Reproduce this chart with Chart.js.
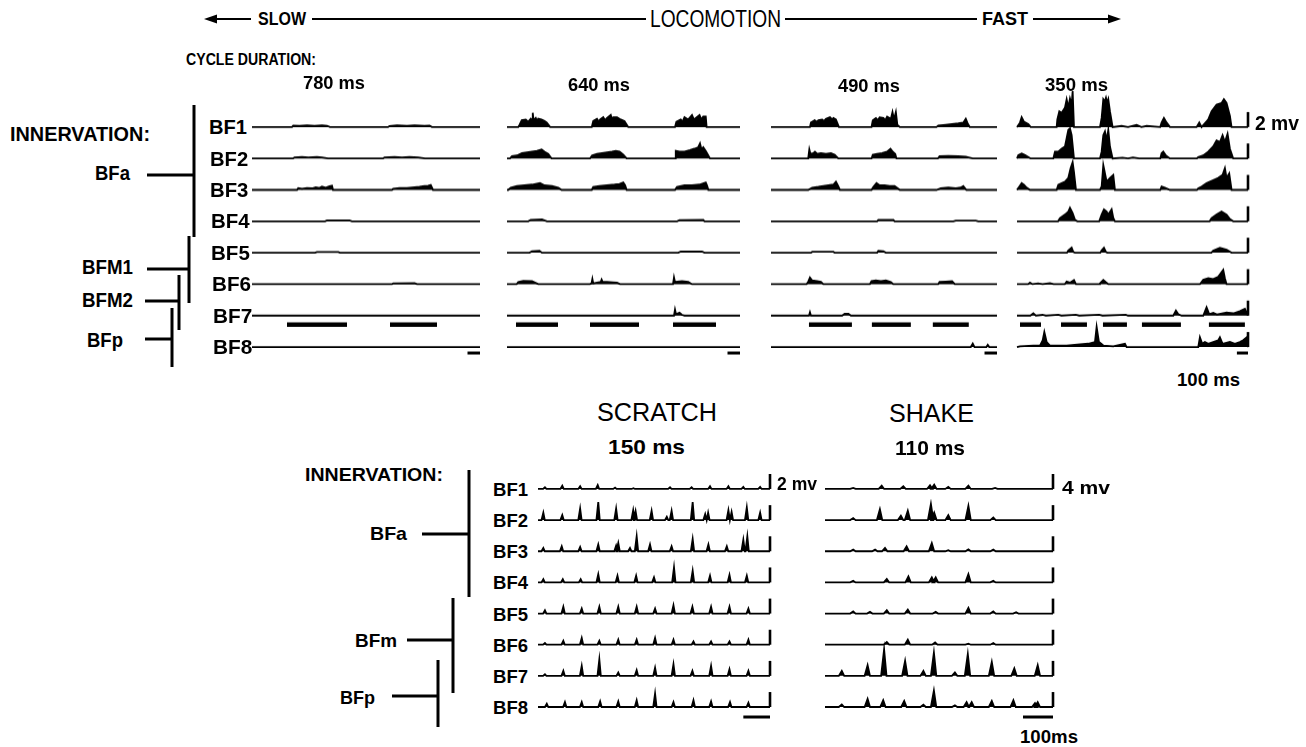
<!DOCTYPE html>
<html><head><meta charset="utf-8">
<script src="https://cdn.jsdelivr.net/npm/chart.js@4.4.0/dist/chart.umd.min.js"></script>
<style>
html,body{margin:0;padding:0;background:#fff;}
#stage{position:relative;width:1306px;height:747px;overflow:hidden;background:#fff;font-family:"Liberation Sans",Arial,Helvetica,sans-serif;color:#000;}
#stage canvas{position:absolute;}
.t{position:absolute;white-space:nowrap;line-height:1;transform-origin:0 50%;}
#ann{position:absolute;left:0;top:0;}
</style></head><body><div id="stage"><svg id="ann" width="1306" height="747"></svg></div>
<script>
// ===================== DATA =====================
// Labels
const rowLabels = ["BF1","BF2","BF3","BF4","BF5","BF6","BF7","BF8"];
const cycleDurationsMs = [780, 640, 490, 350];
const scratchCycleMs = 150;
const shakeCycleMs = 110;
const locoCalibMV = 2, scratchCalibMV = 2, shakeCalibMV = 4, timeBarMs = 100;

// Sweep durations (ms) of each record
const sweep780 = 1824, sweep640 = 1864, sweep490 = 1810, sweep350 = 2080;
const sweepScratch = 870, sweepShake = 760;

// Rectified EMG envelopes, locomotion: flat lists [time ms, amplitude mV, ...]
const loco780 = [
  [320,0, 330,0.2, 380,0.15, 440,0.22, 500,0.15, 560,0.22, 600,0.18, 624,0, 1088,0, 1100,0.15, 1160,0.22, 1240,0.18, 1300,0.22, 1380,0.15, 1420,0.2, 1440,0],
  [328,0, 340,0.15, 400,0.2, 450,0.15, 520,0.2, 560,0.15, 608,0, 1048,0, 1060,0.15, 1140,0.2, 1200,0.15, 1260,0.22, 1330,0.15, 1384,0],
  [360,0, 370,0.25, 400,0.15, 440,0.25, 480,0.2, 510,0.35, 540,0.25, 560,0.45, 590,0.3, 620,0.5, 640,0.55, 648,0, 1120,0, 1130,0.15, 1180,0.25, 1240,0.25, 1300,0.35, 1340,0.4, 1380,0.5, 1410,0.55, 1430,0.65, 1448,0],
  [584,0, 600,0.12, 780,0.12, 800,0],
  [504,0, 520,0.1, 690,0.1, 704,0],
  [1120,0, 1130,0.12, 1300,0.15, 1320,0],
  [],
  []
];
const loco640 = [
  [90,0, 100,0.3, 118,0.9, 150,1.0, 170,0.7, 190,1.1, 200,0.9, 206,1.9, 212,0.9, 230,1.2, 240,0.8, 250,1.1, 275,1.0, 300,0.8, 318,0.6, 345,0, 678,0, 690,0.8, 720,1.1, 735,0.7, 745,1.0, 770,1.3, 785,0.9, 800,1.2, 830,1.6, 840,1.0, 850,1.3, 880,1.3, 910,1.0, 940,0.8, 970,0, 1344,0, 1355,0.7, 1390,1.0, 1405,0.7, 1420,1.3, 1450,1.0, 1480,1.6, 1495,1.0, 1510,1.2, 1540,1.6, 1555,1.0, 1570,1.4, 1590,1.4, 1597,0],
  [24,0, 40,0.3, 80,0.4, 120,0.7, 160,0.8, 200,0.9, 240,1.0, 277,1.2, 300,0.9, 330,0.6, 357,0, 664,0, 680,0.4, 720,0.6, 760,0.7, 800,0.8, 840,0.9, 870,1.0, 900,0.9, 930,0.5, 957,0, 1344,0, 1350,1.0, 1380,0.9, 1420,0.9, 1464,1.1, 1500,1.3, 1530,1.5, 1544,2.0, 1556,1.2, 1570,1.5, 1590,1.0, 1624,0],
  [10,0, 30,0.3, 80,0.5, 140,0.6, 200,0.7, 264,0.9, 300,0.6, 360,0.5, 410,0.3, 437,0, 678,0, 690,0.4, 740,0.5, 800,0.6, 860,0.7, 900,0.8, 930,1.0, 945,0.6, 957,0, 1344,0, 1360,0.4, 1420,0.6, 1480,0.6, 1540,0.7, 1590,1.0, 1600,0.6, 1611,0],
  [170,0, 190,0.2, 280,0.25, 320,0, 1360,0, 1380,0.15, 1570,0.2, 1580,0],
  [180,0, 200,0.2, 260,0.25, 280,0, 1370,0, 1390,0.15, 1560,0.15, 1580,0],
  [77,0, 90,0.3, 130,0.45, 200,0.4, 250,0, 664,0, 676,0.1, 683,0.7, 690,0.1, 720,0.2, 750,0.3, 757,0.6, 765,0.3, 800,0.3, 850,0.25, 880,0.2, 904,0, 1328,0, 1336,0.9, 1344,0.3, 1400,0.4, 1450,0.3, 1480,0],
  [1336,0, 1344,0.8, 1352,0.2, 1380,0.4, 1400,0.1, 1420,0],
  []
];
const loco490 = [
  [312,0, 320,0.6, 350,0.9, 365,0.7, 380,0.9, 410,1.0, 425,0.8, 440,1.1, 472,1.3, 490,1.0, 500,1.2, 520,1.0, 544,0, 805,0, 815,0.9, 840,1.2, 855,0.9, 870,1.3, 900,1.2, 915,0.9, 930,1.4, 960,1.1, 973,2.0, 985,1.0, 1000,2.0, 1012,0.3, 1032,0, 1325,0, 1340,0.2, 1400,0.3, 1450,0.4, 1500,0.5, 1540,0.6, 1560,1.1, 1575,0.5, 1592,0],
  [298,0, 307,1.2, 316,0.6, 340,0.7, 352,0.9, 370,0.6, 400,0.7, 440,0.6, 480,0.7, 510,0.5, 539,0, 805,0, 815,0.5, 850,0.6, 890,0.7, 930,0.9, 957,1.3, 975,0.9, 995,0.6, 1005,0, 1336,0, 1350,0.3, 1420,0.35, 1500,0.3, 1560,0.25, 1616,0],
  [298,0, 330,0.3, 380,0.4, 420,0.5, 460,0.6, 500,0.7, 520,1.1, 535,0.6, 552,0, 805,0, 820,0.4, 845,0.9, 870,0.6, 910,0.6, 950,0.5, 990,0.5, 1032,0, 1325,0, 1360,0.2, 1420,0.3, 1480,0.2, 1520,0.3, 1540,0.5, 1555,0.2, 1565,0],
  [850,0, 860,0.2, 980,0.2, 990,0, 1460,0, 1480,0.1, 1640,0.1, 1660,0],
  [320,0, 330,0.12, 500,0.12, 510,0, 850,0, 860,0.25, 900,0.2, 920,0],
  [285,0, 300,0.4, 312,0.9, 330,0.5, 370,0.4, 400,0.3, 419,0, 792,0, 805,0.4, 840,0.5, 880,0.4, 920,0.5, 960,0.3, 979,0, 1339,0, 1350,0.3, 1400,0.35, 1450,0.4, 1472,0],
  [304,0, 312,0.45, 320,0, 570,0, 590,0.25, 620,0.25, 640,0],
  [1600,0, 1616,0.45, 1630,0, 1725,0, 1736,0.3, 1748,0]
];
const loco350 = [
  [3,0, 27,0.6, 42,1.3, 63,0.7, 102,0.4, 123,0, 357,0, 363,1.0, 381,2.1, 402,1.9, 432,2.6, 447,3.7, 462,2.6, 477,3.8, 492,3.0, 501,4.8, 513,0, 747,0, 762,1.2, 770,2.5, 777,3.7, 790,3.4, 801,3.9, 812,3.2, 822,3.7, 837,2.1, 861,0, 942,0.15, 1000,0, 1077,0.3, 1120,0, 1167,0.15, 1290,0, 1302,0.6, 1323,1.2, 1347,0.6, 1377,0, 1617,0, 1641,0.6, 1662,0, 1722,1.0, 1752,2.1, 1797,3.0, 1842,3.2, 1863,3.7, 1887,3.2, 1917,1.5, 1932,0],
  [12,0.44, 42,0.67, 72,0.44, 102,0.2, 123,0, 327,0, 342,0.9, 372,0.9, 402,1.3, 432,1.6, 447,2.7, 462,3.8, 477,4.0, 492,3.1, 513,0, 747,0, 762,0.9, 777,3.1, 792,3.6, 807,2.4, 822,3.8, 837,1.6, 861,0, 950,0.1, 1000,0, 1044,0.15, 1100,0, 1290,0, 1302,0.7, 1317,0.9, 1341,0.4, 1377,0, 1620,0, 1632,0.2, 1677,0.4, 1722,0.9, 1767,1.6, 1797,2.4, 1827,2.2, 1851,3.1, 1872,2.2, 1896,3.3, 1917,1.3, 1947,0],
  [21,0.44, 42,0.9, 63,0.67, 87,0.3, 117,0, 357,0, 372,0.67, 402,0.9, 432,1.1, 462,1.6, 483,2.9, 501,3.7, 513,2.4, 531,0, 747,0, 762,0.44, 777,3.3, 792,2.2, 807,1.1, 837,1.6, 867,2.0, 882,0, 1290,0, 1302,0.44, 1332,0.3, 1377,0, 1620,0, 1632,0.2, 1662,0.44, 1707,0.9, 1767,1.3, 1812,1.6, 1851,2.0, 1872,2.9, 1887,1.6, 1911,2.2, 1932,0],
  [370,0, 387,0.44, 432,0.9, 462,1.3, 477,1.8, 501,1.1, 522,0.2, 543,0, 740,0, 762,0.9, 783,1.6, 807,1.3, 822,0.9, 852,1.6, 867,0.44, 882,0, 1735,0, 1752,0.44, 1797,0.9, 1842,1.3, 1887,0.9, 1917,0.3, 1947,0],
  [450,0, 462,0.3, 492,0.67, 507,0.1, 522,0, 750,0, 762,0.3, 783,0.67, 801,0.1, 813,0, 1750,0, 1767,0.3, 1827,0.67, 1887,0.4, 1932,0],
  [100,0, 117,0.2, 140,0, 190,0.1, 230,0, 297,0.12, 330,0, 430,0, 447,0.35, 477,0.2, 513,0.55, 531,0, 740,0, 747,0.1, 777,0.55, 801,0.25, 822,0, 1647,0, 1677,0.6, 1722,0.8, 1767,0.67, 1812,1.0, 1857,1.9, 1872,0.8, 1887,0],
  [120,0, 147,0.3, 170,0, 230,0.1, 260,0, 372,0.12, 400,0, 530,0.12, 560,0, 740,0.12, 770,0, 980,0.12, 1000,0, 1407,0, 1431,0.67, 1452,0.2, 1482,0, 1677,0, 1707,1.1, 1731,0.2, 1767,0.36, 1800,0.15, 1887,0.4, 1947,0.3, 2007,0.6, 2052,0.9],
  [27,0.1, 147,0.2, 207,0.2, 231,0.9, 246,2.0, 267,0.67, 297,0.2, 447,0.2, 567,0.36, 642,0.44, 702,0.67, 717,2.7, 738,0.67, 777,0.2, 867,0.1, 972,0.44, 987,0, 1632,0, 1647,1.3, 1668,0.44, 1692,0.67, 1722,0.44, 1767,0.67, 1812,0.9, 1827,1.3, 1851,0.44, 1917,0.67, 1962,0.44, 2007,0.67, 2037,0.9, 2070,1.3]
];

// Stance-phase bars drawn under BF7 [start ms, end ms]
const phase780 = [[280,760],[1104,1480]];
const phase640 = [[72,408],[664,1056],[1328,1672]];
const phase490 = [[304,648],[808,1120],[1296,1584]];
const phase350 = [[27,216],[396,630],[774,990],[1125,1476],[1728,2052]];

// Scratch and shake: burst peaks [time ms, amplitude mV, ...]
const scratchPeaks = [
  [26,0.22, 91,0.44, 158,0.36, 224,0.53, 289,0.18, 358,0.1, 495,0.22, 576,0.22, 645,0.36, 714,0.36, 770,0.27, 833,0.27],
  [20,1.0, 91,0.67, 158,1.55, 226,2.4, 293,1.55, 357,1.33, 366,1.2, 426,1.25, 483,0.45, 501,1.25, 580,2.4, 627,0.8, 638,1.0, 714,1.33, 726,1.1, 783,1.7, 833,1.0],
  [20,0.44, 89,0.67, 158,0.58, 226,0.9, 293,0.75, 301,1.1, 345,0.44, 370,2.0, 420,0.9, 501,0.67, 580,1.65, 639,0.9, 708,0.67, 770,1.55, 785,2.0],
  [20,0.44, 93,0.44, 160,0.44, 226,1.1, 298,0.9, 368,0.9, 435,0.67, 510,2.0, 580,1.55, 645,0.9, 718,1.0, 783,0.9],
  [26,0.44, 95,0.9, 164,0.67, 230,0.9, 301,0.9, 370,0.9, 439,0.67, 508,1.1, 579,0.9, 649,0.9, 718,0.9, 789,0.67],
  [26,0.22, 95,0.53, 164,0.9, 230,0.53, 301,0.67, 370,0.67, 439,0.9, 508,0.67, 583,0.44, 649,0.44, 718,0.44, 789,0.67],
  [26,0.22, 95,0.67, 164,1.33, 230,2.2, 301,0.44, 370,0.75, 439,1.1, 508,1.55, 579,0.67, 649,1.33, 718,0.9, 789,0.67],
  [33,0.44, 101,0.67, 164,0.67, 233,0.75, 301,0.75, 370,0.9, 439,1.8, 508,0.67, 583,0.9, 649,0.75, 720,0.67, 789,0.58]
];
const shakePeaks = [
  [94,0.27, 189,0.9, 261,0.7, 350,1.0, 364,1.15, 411,0.53, 478,0.9, 567,0.27],
  [94,0.53, 183,2.9, 253,1.15, 276,2.5, 353,4.3, 364,2.0, 411,1.33, 478,3.8, 561,0.7],
  [94,0.44, 167,0.44, 200,0.9, 272,1.33, 356,2.2, 411,0.27, 478,0.53, 561,0.44],
  [94,0.44, 206,0.9, 278,1.6, 356,1.33, 369,1.33, 478,2.2, 561,0.44],
  [94,0.6, 150,0.44, 206,0.9, 276,1.07, 369,0.44, 478,1.5, 561,0.6, 637,0.36],
  [206,0.7, 276,1.33, 367,0.6, 478,0.27, 561,0.44],
  [56,1.33, 142,2.85, 197,7.1, 267,4.0, 328,1.33, 363,6.2, 433,0.9, 476,5.8, 556,3.7, 631,2.0, 709,2.85],
  [56,0.7, 142,2.2, 194,1.8, 264,1.6, 328,0.6, 363,4.4, 433,0.44, 472,1.33, 489,1.33, 556,1.6, 628,1.8, 700,1.07, 709,1.33]
];

// ===================== LAYOUT / DRAWING =====================
const stage = document.getElementById('stage');
const ink = '#000';

function pairs(flat){ const o=[]; for(let i=0;i<flat.length;i+=2) o.push([flat[i],flat[i+1]]); return o; }

function buildPanel(cfg){
  const padL=4, padR=8;
  const n = cfg.traces.length;
  const H = cfg.head + cfg.spacing*(n-1) + cfg.foot;
  const cv = document.createElement('canvas');
  cv.width = cfg.w+padL+padR; cv.height = H;
  cv.style.left=(cfg.x0-padL)+'px'; cv.style.top=(cfg.base0-cfg.head)+'px';
  cv.style.width=cv.width+'px'; cv.style.height=H+'px';
  stage.appendChild(cv);
  const k = cfg.pxPerMV;
  const yMax = cfg.head/k, yMin = -(cfg.spacing*(n-1)+cfg.foot)/k;
  const off = i => -i*cfg.spacing/k;
  const ds = [];
  cfg.traces.forEach((tr,i)=>{
    let pts;
    if(cfg.spikes){
      pts=[[0,0]];
      pairs(tr).forEach(([t,a])=>{ pts.push([t-cfg.hw,0],[t,a],[t+cfg.hw*0.8,0]); });
      pts.push([cfg.sweep,0]);
    } else {
      pts=[[0,0]].concat(pairs(tr)).concat([[cfg.sweep,0]]);
    }
    ds.push({data:pts.map(([x,y])=>({x,y:y+off(i)})), borderColor:ink, backgroundColor:ink,
      borderWidth:1.8, pointRadius:0, tension:0, fill:{value:off(i)}, clip:false});
    if(cfg.calib){
      ds.push({data:[{x:cfg.sweep,y:off(i)},{x:cfg.sweep,y:off(i)+cfg.calib}], borderColor:ink,
        borderWidth:2.6, pointRadius:0, fill:false, clip:false, borderCapStyle:'butt'});
    }
  });
  if(cfg.phase){
    const y = off(6) - 9/k;
    cfg.phase.forEach(([a,b])=>ds.push({data:[{x:a,y},{x:b,y}], borderColor:ink, borderWidth:4.5,
      pointRadius:0, fill:false, clip:false, borderCapStyle:'butt'}));
  }
  const yb = off(n-1) - cfg.barGap/k;
  ds.push({data:[{x:cfg.sweep-timeBarMs,y:yb},{x:cfg.sweep,y:yb}], borderColor:ink, borderWidth:3,
    pointRadius:0, fill:false, clip:false, borderCapStyle:'butt'});
  new Chart(cv,{type:'line',data:{datasets:ds},options:{
    responsive:false, animation:false, events:[], devicePixelRatio:1,
    layout:{padding:{left:padL,right:padR,top:0,bottom:0}},
    plugins:{legend:{display:false},tooltip:{enabled:false},title:{display:false}},
    scales:{x:{type:'linear',display:false,min:0,max:cfg.sweep},
            y:{type:'linear',display:false,min:yMin,max:yMax}}
  }});
}

const locoRows = {base0:127, spacing:31.4, head:42, foot:16, pxPerMV:7.5, barGap:6};
buildPanel(Object.assign({x0:252, w:228, sweep:sweep780, traces:loco780, phase:phase780}, locoRows));
buildPanel(Object.assign({x0:507, w:233, sweep:sweep640, traces:loco640, phase:phase640}, locoRows));
buildPanel(Object.assign({x0:771, w:226, sweep:sweep490, traces:loco490, phase:phase490}, locoRows));
buildPanel(Object.assign({x0:1017, w:231, sweep:sweep350, traces:loco350, phase:phase350, calib:locoCalibMV}, locoRows));
buildPanel({x0:538, w:232, sweep:sweepScratch, traces:scratchPeaks, spikes:true, hw:7, calib:scratchCalibMV,
  base0:489, spacing:31.2, head:24, foot:16, pxPerMV:7.5, barGap:10});
buildPanel({x0:825, w:228, sweep:sweepShake, traces:shakePeaks, spikes:true, hw:10, calib:shakeCalibMV,
  base0:489, spacing:31.2, head:34, foot:16, pxPerMV:3.75, barGap:10});

// ---- text ----
function addText(str, left, right, cy, size, weight){
  const d=document.createElement('div'); d.className='t'; d.textContent=str;
  d.style.fontSize=size+'px'; d.style.fontWeight=weight||'bold';
  stage.appendChild(d);
  const w=d.getBoundingClientRect().width;
  d.style.left=left+'px'; d.style.top=(cy-0.4885*size)+'px';
  d.style.transform='scaleX('+((right-left)/w).toFixed(3)+')';
}
addText('SLOW',258,306,19,18);
addText('LOCOMOTION',650,781,19,24,'normal');
addText('FAST',982,1028,19,18);
addText('CYCLE DURATION:',186,316,60,16);
const cycX=[[303,365],[568,630],[838,900],[1045,1108]], cycY=[83,85,86,85];
cycleDurationsMs.forEach((v,i)=>addText(v+' ms',cycX[i][0],cycX[i][1],cycY[i],18));
addText('INNERVATION:',10,150,134,20);
addText('BFa',95,130,173,20);
addText('BFM1',82,133,267,20);
addText('BFM2',82,133,300,20);
addText('BFp',87,123,340,20);
rowLabels.forEach((s,i)=>addText(s,209+i*0.6,247+i*0.8,127+i*31.4,20));
addText('2 mv',1255,1299,123,20);
addText('100 ms',1177,1240,380,18);
addText('SCRATCH',597,717,412,25,'normal');
addText(scratchCycleMs+' ms',608,685,446,21);
addText('SHAKE',889,974,413,25,'normal');
addText(shakeCycleMs+' ms',895,965,447,21);
addText('INNERVATION:',305,443,474,19);
addText('BFa',370,407,533,19);
addText('BFm',355,397,640,19);
addText('BFp',340,375,697,19);
rowLabels.forEach((s,i)=>addText(s,493,528,489+i*31.2,19));
addText('2 mv',777,817,483,19);
addText('4 mv',1062,1110,487,19);
addText('100ms',1020,1078,737,18);

// ---- annotation lines ----
const svg=document.getElementById('ann');
function ln(x1,y1,x2,y2,w){const l=document.createElementNS('http://www.w3.org/2000/svg','line');
  l.setAttribute('x1',x1);l.setAttribute('y1',y1);l.setAttribute('x2',x2);l.setAttribute('y2',y2);
  l.setAttribute('stroke',ink);l.setAttribute('stroke-width',w);svg.appendChild(l);}
function tri(p){const g=document.createElementNS('http://www.w3.org/2000/svg','polygon');
  g.setAttribute('points',p);g.setAttribute('fill',ink);svg.appendChild(g);}
ln(215,19,251,19,2.2); tri('204,19 217,14.5 217,23.5');
ln(312,19,646,19,2.2); ln(785,19,977,19,2.2);
ln(1033,19,1110,19,2.2); tri('1121,19 1108,14.5 1108,23.5');
// locomotion innervation brackets
ln(147,175,194,175,3); ln(194,105,194,237,3);
ln(147,269,189,269,3); ln(189,236,189,303,3);
ln(145,301,179,301,3); ln(179,275,179,330,3);
ln(145,339,172,339,3); ln(172,308,172,367,3);
// scratch/shake innervation brackets
ln(422,534,469,534,3); ln(469,470,469,597,3);
ln(407,640,453,640,3); ln(453,598,453,693,3);
ln(392,696,438,696,3); ln(438,660,438,727,3);
</script></body></html>
